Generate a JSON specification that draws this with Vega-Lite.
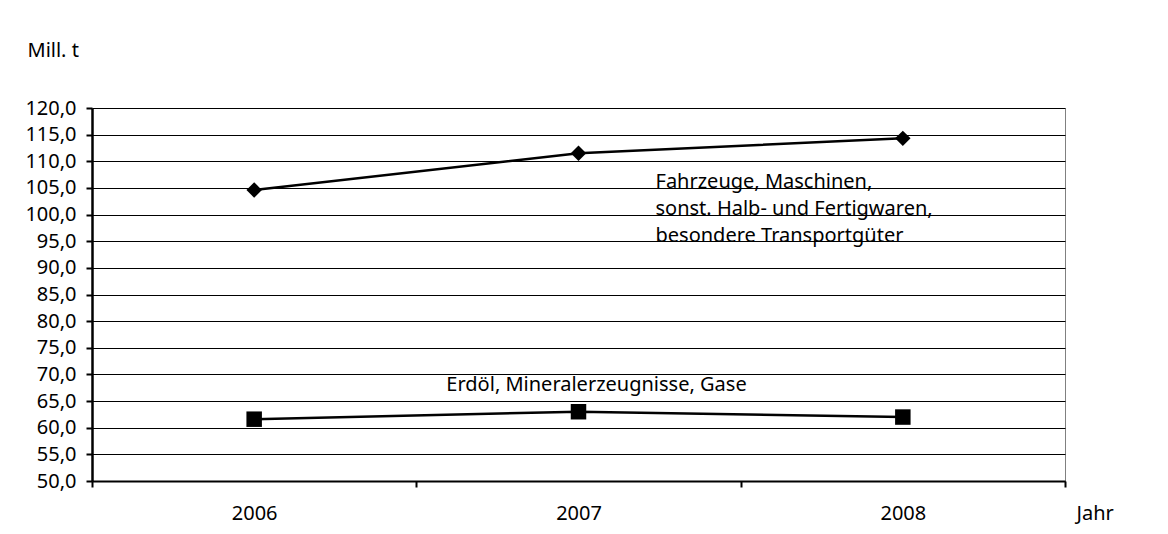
{
  "$schema": "https://vega.github.io/schema/vega-lite/v6.json",
  "width": 973,
  "height": 373,
  "autosize": {"type": "none"},
  "padding": {"left": 92, "top": 108, "right": 103, "bottom": 53},
  "background": "white",
  "config": {
    "font": "Noto Sans",
    "view": {"stroke": "#808080", "strokeWidth": 1},
    "axis": {"labelFont": "Noto Sans", "titleFont": "Noto Sans", "labelColor": "#000", "titleColor": "#000"}
  },
  "datasets": {
    "series": [
      {"Jahr": "2006", "Gruppe": "Fahrzeuge", "Wert": 104.6},
      {"Jahr": "2007", "Gruppe": "Fahrzeuge", "Wert": 111.5},
      {"Jahr": "2008", "Gruppe": "Fahrzeuge", "Wert": 114.3},
      {"Jahr": "2006", "Gruppe": "Erdöl", "Wert": 61.6},
      {"Jahr": "2007", "Gruppe": "Erdöl", "Wert": 63.0},
      {"Jahr": "2008", "Gruppe": "Erdöl", "Wert": 62.0}
    ],
    "labels": [
      {"Jahr": "2007", "Wert": 106.1, "Text": "Fahrzeuge, Maschinen,", "Art": "links"},
      {"Jahr": "2007", "Wert": 101.0, "Text": "sonst. Halb- und Fertigwaren,", "Art": "links"},
      {"Jahr": "2007", "Wert": 96.0, "Text": "besondere Transportgüter", "Art": "links"},
      {"Jahr": "2007", "Wert": 68.0, "Text": "Erdöl, Mineralerzeugnisse, Gase", "Art": "mitte"}
    ]
  },
  "encoding": {
    "x": {
      "field": "Jahr", "type": "ordinal",
      "scale": {"paddingInner": 0, "paddingOuter": 0},
      "axis": {
        "labelAngle": 0, "labelFontSize": 20, "labelPadding": 26, "labelBaseline": "middle",
        "tickBand": "extent", "tickSize": 6, "tickColor": "#000", "tickWidth": 2,
        "domainColor": "#000", "domainWidth": 2, "grid": false,
        "title": "Jahr", "titleFontSize": 20, "titleFontWeight": "normal",
        "titleAlign": "left", "titleBaseline": "middle", "titleAnchor": null,
        "titleX": 984, "titleY": 32
      }
    },
    "y": {
      "field": "Wert", "type": "quantitative",
      "scale": {"domain": [50, 120], "zero": false, "nice": false},
      "axis": {
        "values": [50, 55, 60, 65, 70, 75, 80, 85, 90, 95, 100, 105, 110, 115, 120],
        "tickCount": 15,
        "labelExpr": "replace(format(datum.value, '.1f'), '.', ',')",
        "labelFontSize": 20, "labelPadding": 10, "labelOverlap": false,
        "tickSize": 6, "tickColor": "#000", "tickWidth": 2,
        "domainColor": "#000", "domainWidth": 2.5,
        "grid": true, "gridColor": "#000", "gridWidth": 1, "gridOpacity": 1,
        "title": "Mill. t", "titleAngle": 0, "titleFontSize": 20, "titleFontWeight": "normal",
        "titleAlign": "left", "titleBaseline": "middle", "titleAnchor": null,
        "titleX": -65, "titleY": -58
      }
    }
  },
  "layer": [
    {
      "data": {"name": "series"},
      "mark": {"type": "line", "color": "#000", "strokeWidth": 2.5},
      "encoding": {
        "detail": {"field": "Gruppe"}
      }
    },
    {
      "data": {"name": "series"},
      "mark": {"type": "point", "filled": true, "color": "#000", "opacity": 1, "size": 240},
      "encoding": {
        "shape": {
          "field": "Gruppe", "type": "nominal",
          "scale": {"domain": ["Fahrzeuge", "Erdöl"], "range": ["diamond", "square"]},
          "legend": null
        }
      }
    },
    {
      "data": {"name": "labels"},
      "transform": [{"filter": "datum.Art == 'links'"}],
      "mark": {"type": "text", "align": "left", "baseline": "middle", "dx": 77, "fontSize": 20, "color": "#000"},
      "encoding": {
        "text": {"field": "Text"}
      }
    },
    {
      "data": {"name": "labels"},
      "transform": [{"filter": "datum.Art == 'mitte'"}],
      "mark": {"type": "text", "align": "center", "baseline": "middle", "dx": 18, "fontSize": 20, "color": "#000"},
      "encoding": {
        "text": {"field": "Text"}
      }
    }
  ]
}
